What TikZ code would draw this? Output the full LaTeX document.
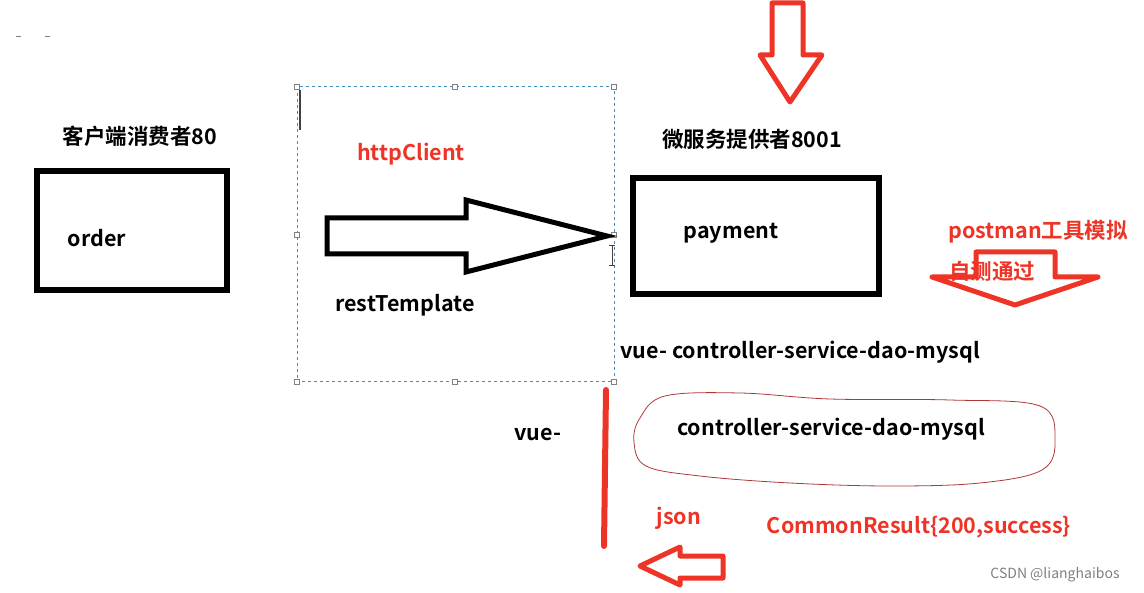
\documentclass[tikz,border=0pt]{standalone}
\usepackage{fontspec}
\setmainfont{Noto Sans CJK SC}[BoldFont={* Bold}]
\newfontfamily\wmfont{Noto Sans CJK SC}
\definecolor{penred}{RGB}{238,52,38}
\definecolor{selblue}{RGB}{70,140,185}
\definecolor{blobred}{RGB}{175,55,55}
\tikzset{
  box/.style={draw,line width=6pt},
  lbl/.style={font=\fontsize{21.5}{24}\selectfont\bfseries},
  redlbl/.style={lbl,text=penred},
  handle/.style={draw=gray,fill=white,line width=0.8pt,minimum size=5pt,inner sep=0pt},
  redarrow/.style={draw=penred,line width=5pt,line join=round},
}
\begin{document}
\begin{tikzpicture}[x=1pt,y=-1pt]
  \useasboundingbox (0,0) rectangle (1144,593);
  \draw[gray,line width=1pt] (16,37) -- (21,37) (45,37) -- (50,37);

  % consumer
  \node (consumer) at (140,136) [lbl] {客户端消费者80};
  \draw[box] (37,171) rectangle (227,290);
  \node (order) at (97,238) [lbl] {order};

  % selection frame
  \draw[selblue,dashed,line width=1pt] (297,87) rectangle (614,382);
  \foreach \p in {(297,87),(455,87),(614,87),(297,235),(614,235),(297,382),(455,382),(614,382)}
    \node[handle] at \p {};
  \draw[darkgray,line width=1.2pt] (300,90) -- (300,130);
  \draw[darkgray,line width=0.8pt] (612,245) -- (612,265) (609,245) -- (615,245) (609,265) -- (615,265);
  \node (http) at (411,154) [redlbl] {httpClient};
  \draw[line width=5pt,line join=miter] (327,218) -- (466,218) -- (466,200) -- (607,236)
    -- (466,272) -- (466,254) -- (327,254) -- cycle;
  \node (rest) at (405,305) [lbl] {restTemplate};

  % provider
  \draw[redarrow] (772,3) -- (803,3) -- (803,55) -- (822,55) -- (790,102) -- (760,55) -- (772,55) -- cycle;
  \node (provider) at (752,139) [lbl] {微服务提供者8001};
  \draw[box] (633,178) rectangle (879,294);
  \node (payment) at (731,233) [lbl] {payment};

  \node (postman) at (1038,232) [redlbl] {postman工具模拟};
  \node (selftest) at (992,271) [redlbl] {自测通过};
  \draw[redarrow] (976,277) -- (976,252) -- (1055,252) -- (1055,277) -- (1098,277)
    -- (1015,305) -- (932,277) -- cycle;

  \node (chain) at (617,352) [lbl,anchor=west] {vue- controller-service-dao-mysql};

  % call path
  \draw[penred,line width=6pt,line cap=round] (606,390) -- (604,546);
  \node (vue) at (538,434) [lbl] {vue-};
  \draw[blobred,line width=0.8pt] plot[smooth cycle,tension=0.6] coordinates {
    (640,418) (665,396) (740,393) (830,399) (950,400) (1040,406) (1055,440) (1042,470)
    (980,483) (890,486) (790,483) (700,476) (646,466) (634,442)};
  \node (layers) at (831,429) [lbl] {controller-service-dao-mysql};
  \node (json) at (679,518) [redlbl] {json};
  \node (result) at (919,527) [redlbl] {CommonResult\{200,success\}};
  \draw[redarrow] (723,556) -- (723,578) -- (680,578) -- (680,585) -- (640,566)
    -- (680,547) -- (680,556) -- cycle;

  \node (mark) at (1055,575) [text=gray,font=\wmfont\fontsize{14}{16}\selectfont] {CSDN @lianghaibos};
\end{tikzpicture}
\end{document}
